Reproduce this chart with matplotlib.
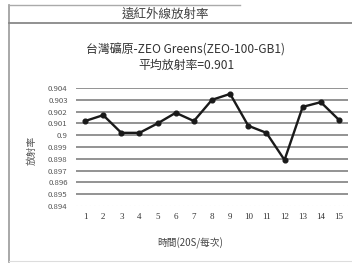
import matplotlib
matplotlib.use("Agg")
import matplotlib.pyplot as plt
from matplotlib.lines import Line2D

plt.rcParams['font.family'] = ['Noto Sans CJK TC', 'DejaVu Sans']

x = list(range(1, 16))
emissivity = [0.9012, 0.9017, 0.9002, 0.9002, 0.9010, 0.9019, 0.9012, 0.9030,
              0.9035, 0.9008, 0.9002, 0.8979, 0.9024, 0.9028, 0.9013]
yticks = [0.894, 0.895, 0.896, 0.897, 0.898, 0.899, 0.9, 0.901, 0.902, 0.903, 0.904]
ylabels = ['0.894', '0.895', '0.896', '0.897', '0.898', '0.899', '0.9',
           '0.901', '0.902', '0.903', '0.904']

W, H = 352, 264
fig = plt.figure(figsize=(W / 100, H / 100), dpi=100)
fig.patch.set_facecolor('white')

# axes in pixel coordinates
left, right, top, bottom = 76, 348, 88, 206
ax = fig.add_axes([left / W, 1 - bottom / H, (right - left) / W, (bottom - top) / H])

ax.set_xlim(0.5, 15.5)
ax.set_ylim(0.894, 0.904)
for t in yticks[1:]:
    ax.axhline(t, color='#808080', lw=1.2, zorder=1)
ax.plot(x, emissivity, color='#1a1a1a', lw=1.7, marker='o', ms=3.4, zorder=3)

ax.set_yticks(yticks)
ax.set_yticklabels(ylabels, fontsize=5.6, color='#555555')
ax.set_xticks(x)
ax.set_xticklabels([str(i) for i in x], fontsize=6.5, color='#333333',
                   family='Liberation Serif')
ax.tick_params(length=0, pad=6)
ax.tick_params(axis='x', pad=5)
for s in ax.spines.values():
    s.set_visible(False)
ax.axhline(0.894, color='#cccccc', lw=0.8, ls=(0, (1, 3)))

# outer frame
fig.add_artist(Line2D([9 / W, 9 / W], [1 - 5 / H, 1 - 262 / H], color='#999999', lw=1.2))
fig.add_artist(Line2D([9 / W, 240 / W], [1 - 5 / H, 1 - 5 / H], color='#aaaaaa', lw=1.0))
fig.add_artist(Line2D([9 / W, 1.0], [1 - 23 / H, 1 - 23 / H], color='#888888', lw=1.3))
fig.add_artist(Line2D([9 / W, 1.0], [1 - 261 / H, 1 - 261 / H], color='#dddddd', lw=0.8))

fig.text(165 / W, 1 - 14 / H, '遠紅外線放射率', ha='center', va='center',
         fontsize=9, color='#444444')
fig.text(186 / W, 1 - 50 / H, '台灣礦原-ZEO Greens(ZEO-100-GB1)', ha='center',
         va='center', fontsize=8.6, color='#333333')
fig.text(186 / W, 1 - 65 / H, '平均放射率=0.901', ha='center', va='center',
         fontsize=8.6, color='#333333')
fig.text(32 / W, 1 - 150 / H, '放射率', ha='center', va='center', rotation=90,
         fontsize=7, color='#555555')
fig.text(190 / W, 1 - 243 / H, '時間(20S/每次)', ha='center', va='center',
         fontsize=7, color='#444444')

fig.savefig('out.png', dpi=100)
